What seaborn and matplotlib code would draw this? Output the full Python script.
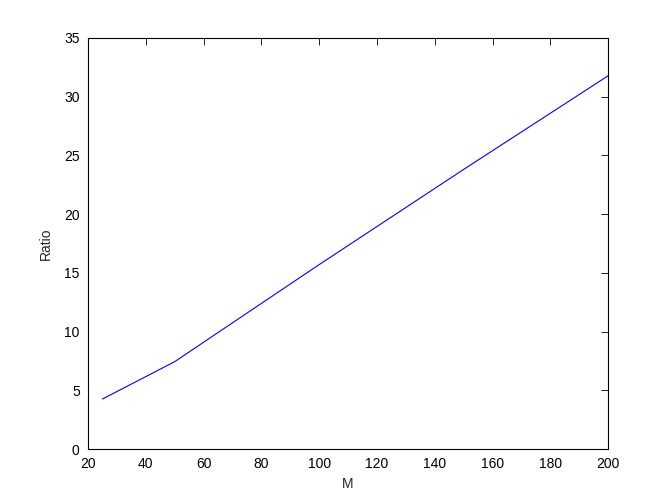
import numpy as np
import pandas as pd
import matplotlib
matplotlib.use('Agg')
import matplotlib.pyplot as plt
import seaborn as sns

# data
m_values = [25, 50, 100, 150, 200]
ratio_values = [4.26, 7.44, 15.7, 23.8, 31.77]

sns.set_style('white')
plt.rcParams['font.family'] = ['Liberation Sans', 'DejaVu Sans']

df = pd.DataFrame({'M': m_values, 'Ratio': ratio_values})

fig = plt.figure(figsize=(6.72, 5.04), dpi=100)
ax = fig.add_axes([0.131, 0.109, 0.774, 0.816])
sns.lineplot(data=df, x='M', y='Ratio', color='#0000ff', linewidth=0.8, ax=ax)

ax.set_xlim(20, 200)
ax.set_ylim(0, 35)
ax.set_xticks(np.arange(20, 201, 20))
ax.set_yticks(np.arange(0, 36, 5))
ax.tick_params(direction='in', top=True, right=True, length=5, width=0.6,
               labelsize=10, colors='black')
ax.tick_params(axis='y', pad=6)
ax.tick_params(axis='x', pad=6)
for s in ax.spines.values():
    s.set_linewidth(0.8)
    s.set_color('black')
ax.set_xlabel('M', fontsize=10, labelpad=4)
ax.set_ylabel('Ratio', fontsize=10, labelpad=8)

fig.savefig('out.png', dpi=100)
